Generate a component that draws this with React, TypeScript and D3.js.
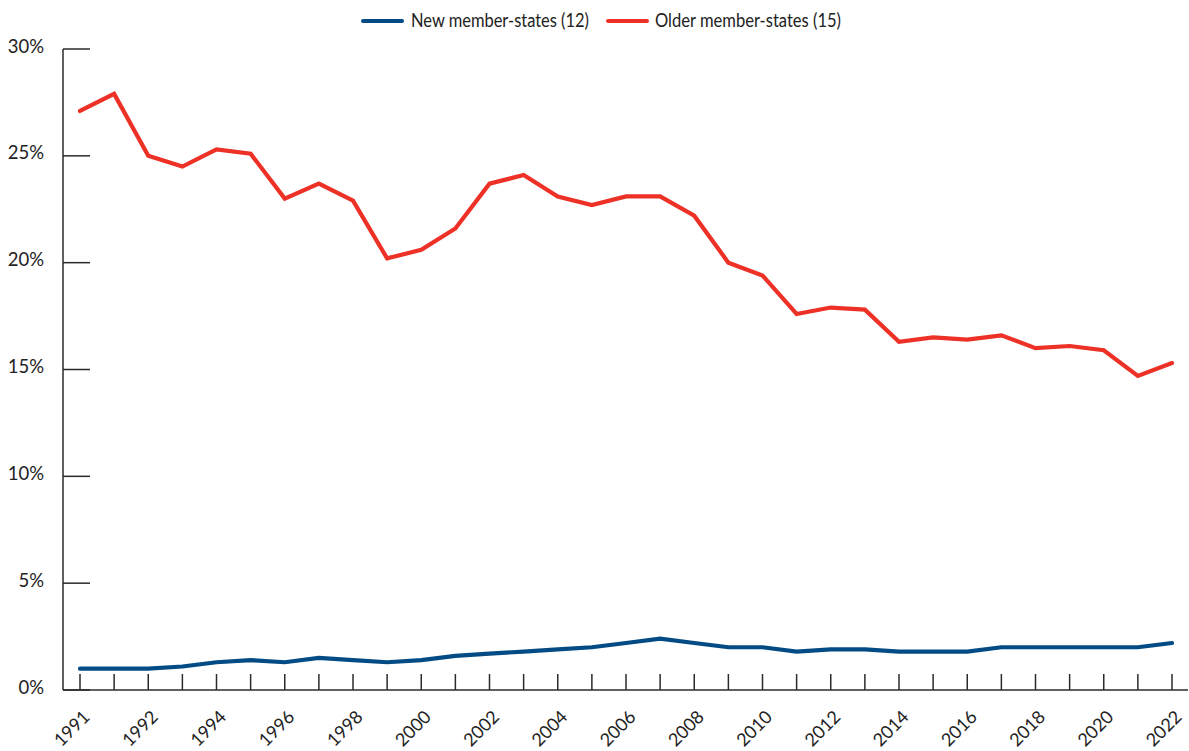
import React from "react";
import * as d3 from "d3";

const categories = [
  "1990", "1991", "1992", "1993", "1994", "1995", "1996", "1997", "1998", "1999", "2000",
  "2001", "2002", "2003", "2004", "2005", "2006", "2007", "2008", "2009", "2010",
  "2011", "2012", "2013", "2014", "2015", "2016", "2017", "2018", "2019", "2020",
  "2021", "2022",
];

const xTickLabels = [
  "1991", "", "1992", "", "1994", "", "1996", "", "1998", "", "2000",
  "", "2002", "", "2004", "", "2006", "", "2008", "", "2010",
  "", "2012", "", "2014", "", "2016", "", "2018", "", "2020",
  "", "2022",
];

const newMemberStates = [
  1.0, 1.0, 1.0, 1.1, 1.3, 1.4, 1.3, 1.5, 1.4, 1.3, 1.4,
  1.6, 1.7, 1.8, 1.9, 2.0, 2.2, 2.4, 2.2, 2.0, 2.0,
  1.8, 1.9, 1.9, 1.8, 1.8, 1.8, 2.0, 2.0, 2.0, 2.0,
  2.0, 2.2,
];

const olderMemberStates = [
  27.1, 27.9, 25.0, 24.5, 25.3, 25.1, 23.0, 23.7, 22.9, 20.2, 20.6,
  21.6, 23.7, 24.1, 23.1, 22.7, 23.1, 23.1, 22.2, 20.0, 19.4,
  17.6, 17.9, 17.8, 16.3, 16.5, 16.4, 16.6, 16.0, 16.1, 15.9,
  14.7, 15.3,
];

const yTicks = [0, 5, 10, 15, 20, 25, 30];

const series = [
  { name: "New member-states (12)", values: newMemberStates, color: "#034b84" },
  { name: "Older member-states (15)", values: olderMemberStates, color: "#ee3127" },
];

const W = 1189;
const H = 751;
const FONT = "Lato, 'Noto Sans', sans-serif";
const AXIS = "#2b2b2b";

export default function App() {
  const axisLeft = 63;
  const axisRight = 1188;
  const x = d3.scalePoint<string>().domain(categories).range([80, 1172]);
  const y = d3.scaleLinear().domain([0, 30]).range([690, 49]);

  const line = d3
    .line<number>()
    .x((_, i) => x(categories[i]) as number)
    .y((d) => y(d));

  const legendItems = [
    { lx1: 363, lx2: 402, tx: 411, w: 178 },
    { lx1: 608, lx2: 647, tx: 655, w: 186 },
  ];

  return (
    <svg
      width={W}
      height={H}
      style={{ position: "absolute", left: 0, top: 0, background: "#fff" }}
      fontFamily={FONT}
    >
      {/* Legend */}
      {series.map((s, i) => (
        <g key={s.name}>
          <line
            x1={legendItems[i].lx1}
            x2={legendItems[i].lx2}
            y1={21}
            y2={21}
            stroke={s.color}
            strokeWidth={4}
            strokeLinecap="round"
          />
          <text
            x={legendItems[i].tx}
            y={26.5}
            fontSize={18.5}
            fill="#222"
            textLength={legendItems[i].w}
            lengthAdjust="spacingAndGlyphs"
          >
            {s.name}
          </text>
        </g>
      ))}

      {/* Y axis */}
      <line x1={axisLeft} x2={axisLeft} y1={y(30)} y2={y(0)} stroke={AXIS} strokeWidth={1.5} />
      {yTicks.map((t) => (
        <g key={t}>
          <line x1={axisLeft} x2={axisLeft + 27} y1={y(t)} y2={y(t)} stroke={AXIS} strokeWidth={1.5} />
          <text x={44} y={y(t) + 3.5} textAnchor="end" fontSize={18.5} fill="#222">
            {t}%
          </text>
        </g>
      ))}

      {/* X axis */}
      <line x1={axisLeft} x2={axisRight} y1={y(0)} y2={y(0)} stroke={AXIS} strokeWidth={1.5} />
      {categories.map((c, i) => {
        const px = x(c) as number;
        return (
          <g key={c}>
            <line x1={px} x2={px} y1={y(0)} y2={y(0) - 16} stroke={AXIS} strokeWidth={1.5} />
            {xTickLabels[i] && (
              <text
                transform={`translate(${px + 11},${y(0) + 28}) rotate(-45)`}
                textAnchor="end"
                fontSize={18}
                fill="#222"
              >
                {xTickLabels[i]}
              </text>
            )}
          </g>
        );
      })}

      {/* Lines */}
      {series.map((s) => (
        <path
          key={s.name}
          d={line(s.values) || ""}
          fill="none"
          stroke={s.color}
          strokeWidth={4.2}
          strokeLinejoin="miter"
          strokeLinecap="round"
        />
      ))}
    </svg>
  );
}
